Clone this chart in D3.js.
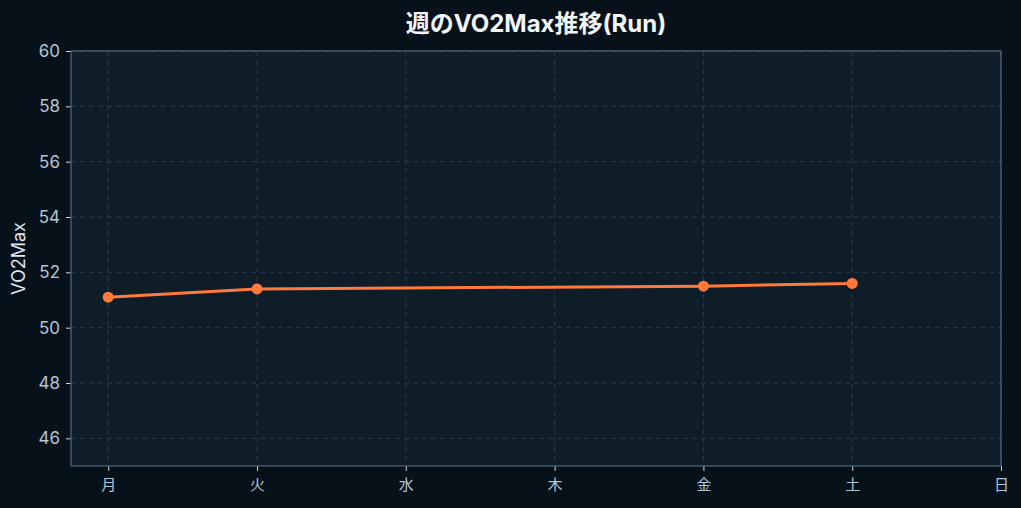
<!DOCTYPE html>
<html>
<head>
<meta charset="utf-8">
<script src="https://cdn.jsdelivr.net/npm/d3@7"></script>
<style>
  html, body { margin: 0; padding: 0; background: #07111a; }
  svg { display: block; font-family: Inter, "Noto Sans CJK JP", sans-serif; }
</style>
</head>
<body>
<script>
// weekly VO2Max values (null = no run that day)
const days = ["月", "火", "水", "木", "金", "土", "日"];
const vo2max = [51.1, 51.4, null, null, 51.5, 51.6, null];
const yTicks = [46, 48, 50, 52, 54, 56, 58, 60];

const W = 1021, H = 508;
const margin = {top: 51, right: 20, bottom: 42, left: 71};
const iw = W - margin.left - margin.right,
      ih = H - margin.top - margin.bottom;

const svg = d3.select("body").append("svg")
  .attr("width", W)
  .attr("height", H);

svg.append("rect").attr("width", W).attr("height", H).attr("fill", "#07111a");

// title, centred over the plot area
svg.append("text")
  .attr("x", margin.left + iw / 2).attr("y", 32)
  .attr("text-anchor", "middle")
  .attr("fill", "#f2f6fa")
  .attr("font-size", 24).attr("font-weight", "bold")
  .text("週のVO2Max推移(Run)");

const g = svg.append("g").attr("transform", `translate(${margin.left},${margin.top})`);

const x = d3.scaleLinear().domain([-0.25, 6]).range([0, iw]);
const y = d3.scaleLinear().domain([45, 60]).range([ih, 0]);

g.append("rect").attr("width", iw).attr("height", ih).attr("fill", "#0f1d29");

// grid
g.selectAll("line.vg").data(days).join("line")
  .attr("class", "vg")
  .attr("x1", (d, i) => x(i)).attr("x2", (d, i) => x(i))
  .attr("y1", 0).attr("y2", ih)
  .attr("stroke", "#2b3b48").attr("stroke-dasharray", "5,4");
g.selectAll("line.hg").data(yTicks).join("line")
  .attr("class", "hg")
  .attr("x1", 0).attr("x2", iw)
  .attr("y1", d => y(d)).attr("y2", d => y(d))
  .attr("stroke", "#2b3b48").attr("stroke-dasharray", "5,4");

// axes
const yAxis = g.append("g")
  .call(d3.axisLeft(y).tickValues(yTicks).tickSize(5).tickPadding(6));
const xAxis = g.append("g").attr("transform", `translate(0,${ih})`)
  .call(d3.axisBottom(x).tickValues(d3.range(days.length)).tickFormat(i => days[i]).tickSize(5).tickPadding(8));

[yAxis, xAxis].forEach(a => {
  a.select(".domain").remove();
  a.selectAll("line").attr("stroke", "#c8d6e2");
  a.selectAll("text").attr("fill", "#b4c6d6").attr("font-size", 17)
    .attr("font-family", 'Inter, "Noto Sans CJK JP", sans-serif');
});
xAxis.selectAll("text").attr("font-size", 15);

// frame
g.append("rect").attr("width", iw).attr("height", ih)
  .attr("fill", "none").attr("stroke", "#56687a").attr("stroke-width", 1.2);

// y label
svg.append("text")
  .attr("transform", `translate(25,${margin.top + ih / 2}) rotate(-90)`)
  .attr("text-anchor", "middle")
  .attr("fill", "#dde6ee").attr("font-size", 18)
  .text("VO2Max");

// line, skipping missing days
const pts = vo2max.map((v, i) => ({i, v})).filter(d => d.v != null);
g.append("path").datum(pts)
  .attr("d", d3.line().x(d => x(d.i)).y(d => y(d.v)))
  .attr("fill", "none").attr("stroke", "#ff7a3c").attr("stroke-width", 3);
g.selectAll("circle").data(pts).join("circle")
  .attr("cx", d => x(d.i)).attr("cy", d => y(d.v))
  .attr("r", 5.5).attr("fill", "#ff7a3c");
</script>
</body>
</html>
